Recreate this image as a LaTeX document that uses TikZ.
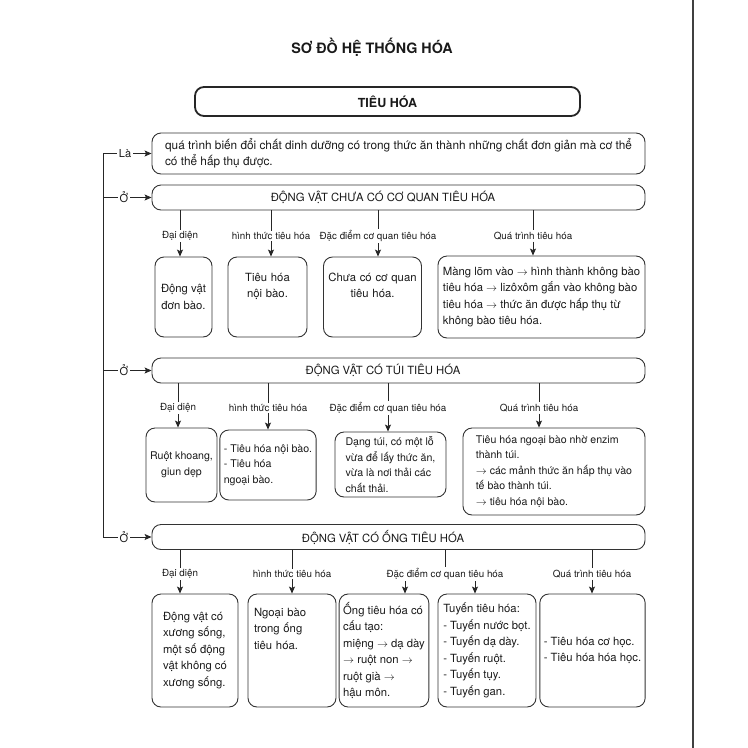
\documentclass[tikz,border=0pt]{standalone}
\usepackage{fontspec}
\setmainfont{TeX Gyre Heros}
\usetikzlibrary{arrows.meta,positioning,calc}
\newcommand{\toarr}{$\rightarrow$}

\begin{document}
\begin{tikzpicture}[x=1pt, y=-1pt, every node/.style={text=black!90}]
  % Styles for the boxes, labels and lines
  \tikzstyle{titlebox} = [rectangle, rounded corners=9pt, draw=black!85, line width=1.8pt, minimum width=385pt, minimum height=29pt, font=\fontsize{12.5}{15}\selectfont\bfseries]
  \tikzstyle{infobox} = [rectangle, rounded corners=9pt, draw=black!80, line width=0.9pt, inner xsep=4pt, inner ysep=4pt, font=\fontsize{11.3}{16.5}\selectfont]
  \tikzstyle{groupbox} = [infobox, minimum width=493pt, minimum height=25pt]
  \tikzstyle{leafbox} = [infobox, align=left]
  \tikzstyle{midbox} = [infobox, align=center]
  \tikzstyle{smalltext} = [font=\fontsize{10.6}{15.5}\selectfont]
  \tikzstyle{branchlabel} = [font=\fontsize{9.8}{12}\selectfont, inner sep=1.5pt]
  \tikzstyle{relation} = [font=\fontsize{11}{13}\selectfont, inner sep=2pt]
  \tikzstyle{link} = [line width=0.8pt, draw=black!85]
  \tikzstyle{flow} = [link, -{Stealth[length=7pt, width=6pt, inset=1.5pt]}]

  \useasboundingbox (0,0) rectangle (748,748);

  % Title and root
  \node[font=\fontsize{14.3}{17}\selectfont\bfseries] (title) at (372, 47) {SƠ ĐỒ HỆ THỐNG HÓA};
  \node[titlebox] (tieuhoa) at (387.5, 101.5) {TIÊU HÓA};

  % Definition and the three groups
  \node[leafbox, font=\fontsize{11.8}{16}\selectfont, minimum width=493pt, minimum height=41pt] (dinhnghia) at (398.5, 153.5) {quá trình biến đổi chất dinh dưỡng có trong thức ăn thành những chất đơn giản mà cơ thể\\có thể hấp thụ được.};
  \node[groupbox] (nhomA) at (398.5, 197.5) {ĐỘNG VẬT CHƯA CÓ CƠ QUAN TIÊU HÓA\hspace*{31pt}};
  \node[groupbox] (nhomB) at (398.5, 370.5) {ĐỘNG VẬT CÓ TÚI TIÊU HÓA\hspace*{31pt}};
  \node[groupbox] (nhomC) at (398.5, 537) {ĐỘNG VẬT CÓ ỐNG TIÊU HÓA\hspace*{31pt}};

  % Left spine
  \node[relation] (la) at (125, 153.5) {Là};
  \node[relation] (oA) at (124, 197.5) {Ở};
  \node[relation] (oB) at (124, 370.5) {Ở};
  \node[relation] (oC) at (124, 537) {Ở};
  \coordinate (spinetop) at (103, 153.5);
  \coordinate (spinebot) at (103, 537);

  \draw[link] (spinetop) -- (la.west);
  \draw[link] (spinetop) -- (spinebot) -- (oC.west);
  \draw[link] (spinetop |- oA) -- (oA.west);
  \draw[link] (spinetop |- oB) -- (oB.west);
  \draw[flow] (la.east) -- (dinhnghia.west);
  \draw[flow] (oA.east) -- (nhomA.west);
  \draw[flow] (oB.east) -- (nhomB.west);
  \draw[flow] (oC.east) -- (nhomC.west);

  % Group A: no digestive organ
  \node[branchlabel] (aL1) at (180, 236) {Đại diện};
  \node[branchlabel] (aL2) at (271, 236) {hình thức tiêu hóa};
  \node[branchlabel] (aL3) at (378, 236) {Đặc điểm cơ quan tiêu hóa};
  \node[branchlabel] (aL4) at (533, 236) {Quá trình tiêu hóa};

  \node[midbox, minimum width=57pt, minimum height=80pt] (aB1) at (183.5, 297) {Động vật\\đơn bào.};
  \node[midbox, text width=70pt, text depth=40pt, minimum width=79pt, minimum height=80pt] (aB2) at (267.5, 297) {Tiêu hóa\\nội bào.};
  \node[midbox, text width=90pt, text depth=40pt, minimum width=97pt, minimum height=80pt] (aB3) at (372.5, 297) {Chưa có cơ quan\\tiêu hóa.};
  \node[leafbox, minimum width=207pt, minimum height=82pt] (aB4) at (541.5, 297) {Màng lõm vào \toarr{} hình thành không bào\\tiêu hóa \toarr{} lizôxôm gắn vào không bào\\tiêu hóa \toarr{} thức ăn được hấp thụ từ\\không bào tiêu hóa.};

  \foreach \i in {1,...,4} {
    \draw[link] (nhomA.south -| aL\i.north) -- (aL\i.north);
    \draw[flow] (aL\i.south) -- (aL\i.south |- aB\i.north);
  }

  % Group B: digestive sac
  \node[branchlabel] (bL1) at (178, 408) {Đại diện};
  \node[branchlabel] (bL2) at (268, 408) {hình thức tiêu hóa};
  \node[branchlabel] (bL3) at (388, 408) {Đặc điểm cơ quan tiêu hóa};
  \node[branchlabel] (bL4) at (539, 408) {Quá trình tiêu hóa};

  \node[midbox, smalltext, minimum width=71pt, minimum height=74pt] (bB1) at (181.5, 465) {Ruột khoang,\\giun dẹp};
  \node[leafbox, smalltext, minimum width=90pt, minimum height=70pt] (bB2) at (268, 465) {- Tiêu hóa nội bào.\\- Tiêu hóa\\ngoại bào.};
  \node[leafbox, smalltext, minimum width=111pt, minimum height=65pt] (bB3) at (390.5, 464.5) {Dạng túi, có một lỗ\\vừa để lấy thức ăn,\\vừa là nơi thải các\\chất thải.};
  \node[leafbox, smalltext, minimum width=182pt, minimum height=87pt] (bB4) at (554, 471.5) {Tiêu hóa ngoại bào nhờ enzim\\thành túi.\\\toarr{} các mảnh thức ăn hấp thụ vào\\tế bào thành túi.\\\toarr{} tiêu hóa nội bào.};

  \foreach \i in {1,...,4} {
    \draw[link] (nhomB.south -| bL\i.north) -- (bL\i.north);
    \draw[flow] (bL\i.south) -- (bL\i.south |- bB\i.north);
  }

  % Group C: digestive tube
  \node[branchlabel] (cL1) at (180, 574) {Đại diện};
  \node[branchlabel] (cL2) at (292, 574) {hình thức tiêu hóa};
  \node[branchlabel] (cL3) at (445, 574) {Đặc điểm cơ quan tiêu hóa};
  \node[branchlabel] (cL4) at (592, 574) {Quá trình tiêu hóa};

  \node[leafbox, minimum width=86pt, minimum height=113pt] (cB1) at (195, 650.5) {Động vật có\\xương sống,\\một số động\\vật không có\\xương sống.};
  \node[leafbox, text width=76pt, text depth=77pt, minimum width=88pt, minimum height=113pt] (cB2) at (292, 650.5) {Ngoại bào\\trong ống\\tiêu hóa.};
  \node[leafbox, minimum width=88pt, minimum height=113pt] (cB3) at (384, 650.5) {Ống tiêu hóa có\\cấu tạo:\\miệng \toarr{} dạ dày\\\toarr{} ruột non \toarr{}\\ruột già \toarr{}\\hậu môn.};
  \node[leafbox, minimum width=98pt, minimum height=113pt] (cB4) at (487, 650.5) {Tuyến tiêu hóa:\\- Tuyến nước bọt.\\- Tuyến dạ dày.\\- Tuyến ruột.\\- Tuyến tụy.\\- Tuyến gan.};
  \node[leafbox, minimum width=105pt, minimum height=113pt] (cB5) at (592.5, 650.5) {- Tiêu hóa cơ học.\\- Tiêu hóa hóa học.};

  \foreach \i in {1,2,3,4} {
    \draw[link] (nhomC.south -| cL\i.north) -- (cL\i.north);
  }
  \draw[flow] (cL1.south) -- (cL1.south |- cB1.north);
  \draw[flow] (cL2.south) -- (cL2.south |- cB2.north);
  \draw[flow] ([xshift=-40pt]cL3.south) -- ([xshift=-40pt]cL3.south |- cB3.north);
  \draw[flow] ([xshift=30pt]cL3.south) -- ([xshift=30pt]cL3.south |- cB4.north);
  \draw[flow] (cL4.south) -- (cL4.south |- cB5.north);

  % Page rule on the right
  \coordinate (pagetop) at (693, 0);
  \coordinate (pagebot) at (693, 748);
  \draw[line width=1.3pt, black!75] (pagetop) -- (pagebot);

\end{tikzpicture}
\end{document}
